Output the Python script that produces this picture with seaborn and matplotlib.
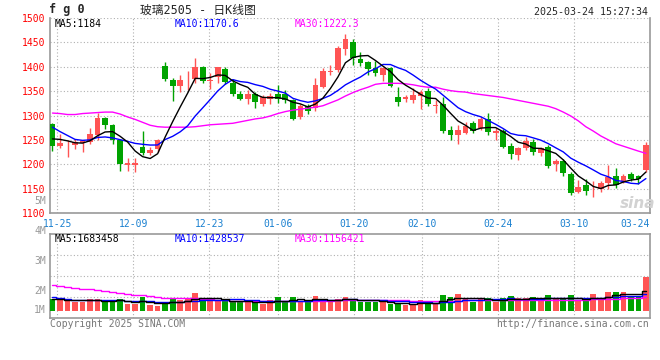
"""
Sina style daily K-line chart: 玻璃2505, 2024-11-22 .. 2025-03-24
Candles + MA5/10/30 on top, volume bars + volume MAs below.
"""

import numpy as np
import seaborn as sns
import matplotlib
matplotlib.use("Agg")
import matplotlib.pyplot as plt
from matplotlib.transforms import blended_transform_factory

# --- 1. DATA ---
date_labels = ['11-25', '12-09', '12-23', '01-06', '01-20', '02-10', '02-24', '03-10', '03-24']
date_idx = [1, 11, 21, 30, 40, 49, 59, 69, 79]

opens = [1283, 1238, 1241, 1240, 1243, 1245, 1260, 1295, 1281, 1249,
         1198, 1198, 1235, 1224, 1231, 1402, 1373, 1361, 1372, 1374,
         1400, 1370, 1380, 1395, 1366, 1344, 1334, 1344, 1324, 1334,
         1344, 1344, 1331, 1296, 1320, 1315, 1359, 1390, 1393, 1436,
         1451, 1416, 1409, 1397, 1383, 1398, 1337, 1334, 1332, 1339,
         1351, 1320, 1324, 1270, 1259, 1265, 1284, 1275, 1293, 1264,
         1268, 1238, 1218, 1234, 1246, 1223, 1236, 1200, 1207, 1180,
         1144, 1158, 1149, 1150, 1161, 1176, 1165, 1180, 1176, 1189]
highs = [1284, 1262, 1250, 1252, 1250, 1275, 1306, 1296, 1282, 1250,
         1212, 1212, 1268, 1235, 1252, 1410, 1376, 1383, 1392, 1417,
         1401, 1387, 1400, 1400, 1374, 1351, 1352, 1349, 1342, 1347,
         1363, 1353, 1334, 1324, 1324, 1376, 1398, 1404, 1443, 1467,
         1456, 1430, 1411, 1412, 1400, 1400, 1359, 1342, 1356, 1352,
         1356, 1332, 1337, 1279, 1280, 1286, 1288, 1297, 1305, 1275,
         1273, 1243, 1236, 1256, 1251, 1236, 1240, 1211, 1211, 1185,
         1168, 1170, 1165, 1165, 1199, 1193, 1181, 1184, 1178, 1245]
lows = [1228, 1234, 1214, 1232, 1226, 1242, 1249, 1272, 1242, 1187,
        1187, 1185, 1219, 1218, 1226, 1371, 1329, 1349, 1352, 1366,
        1367, 1355, 1366, 1364, 1340, 1332, 1324, 1316, 1320, 1324,
        1326, 1325, 1291, 1293, 1303, 1310, 1356, 1383, 1390, 1424,
        1404, 1402, 1384, 1382, 1371, 1359, 1320, 1327, 1325, 1314,
        1320, 1305, 1265, 1250, 1242, 1262, 1265, 1270, 1260, 1250,
        1233, 1211, 1208, 1230, 1219, 1217, 1192, 1187, 1175, 1137,
        1141, 1137, 1132, 1143, 1150, 1151, 1161, 1166, 1160, 1185]
closes = [1238, 1244, 1242, 1245, 1248, 1262, 1295, 1281, 1249, 1200,
          1203, 1203, 1223, 1230, 1249, 1374, 1361, 1373, 1373, 1400,
          1371, 1373, 1399, 1368, 1344, 1334, 1344, 1327, 1337, 1341,
          1334, 1331, 1293, 1320, 1310, 1363, 1392, 1392, 1438, 1456,
          1417, 1408, 1396, 1387, 1398, 1361, 1327, 1338, 1342, 1349,
          1323, 1322, 1269, 1259, 1270, 1279, 1269, 1293, 1266, 1269,
          1236, 1221, 1234, 1248, 1226, 1233, 1197, 1207, 1182, 1141,
          1153, 1146, 1150, 1161, 1173, 1158, 1176, 1170, 1170, 1240]

ma5 = [1252, 1251, 1248, 1244, 1243.4, 1248.2, 1258.4, 1266.2, 1267, 1257.4,
       1245.6, 1227.2, 1215.6, 1211.8, 1221.6, 1255.8, 1287.4, 1317.4, 1346, 1376.2,
       1375.6, 1378, 1383.2, 1382.2, 1371, 1363.6, 1357.8, 1343.4, 1337.2, 1336.6,
       1336.6, 1334, 1327.2, 1323.8, 1317.6, 1323.4, 1335.6, 1355.4, 1379, 1408.2,
       1419, 1422.2, 1423, 1412.8, 1401.2, 1390, 1373.8, 1362.2, 1353.2, 1343.4,
       1335.8, 1334.8, 1321, 1304.4, 1288.6, 1279.8, 1269.2, 1274, 1275.4, 1275.2,
       1266.6, 1257, 1245.2, 1241.6, 1233, 1232.4, 1227.6, 1222.2, 1209, 1192,
       1176, 1165.8, 1154.4, 1150.2, 1156.6, 1157.6, 1163.6, 1167.6, 1169.4, 1184]
ma10 = [1276, 1267, 1259, 1251, 1249, 1250, 1255, 1256, 1254, 1250.4,
        1246.9, 1242.8, 1240.9, 1239.4, 1239.5, 1250.7, 1257.3, 1266.5, 1278.9, 1298.9,
        1315.7, 1332.7, 1350.3, 1364.1, 1373.6, 1369.6, 1367.9, 1363.3, 1359.7, 1353.8,
        1350.1, 1345.9, 1335.3, 1330.5, 1327.1, 1330, 1334.8, 1341.3, 1351.4, 1362.9,
        1371.2, 1378.9, 1389.2, 1395.9, 1404.7, 1404.5, 1398, 1392.6, 1383, 1372.3,
        1362.9, 1354.3, 1341.6, 1328.8, 1316, 1307.8, 1302, 1297.5, 1289.9, 1281.9,
        1273.2, 1263.1, 1259.6, 1258.5, 1254.1, 1249.5, 1242.3, 1233.7, 1225.3, 1212.5,
        1204.2, 1196.7, 1188.3, 1179.6, 1174.3, 1166.8, 1164.7, 1161, 1159.8, 1170.6]
ma30 = [1305, 1304, 1302, 1302, 1304, 1305, 1306, 1307, 1307, 1303,
        1297, 1292, 1286, 1280, 1277, 1276, 1276, 1276, 1276, 1277,
        1279, 1281, 1282, 1283, 1284, 1287, 1290, 1293, 1295, 1299,
        1304, 1308, 1311, 1313, 1315, 1317, 1320, 1326, 1332, 1340,
        1347, 1353, 1358, 1364, 1366, 1366, 1366, 1365, 1363, 1360,
        1358, 1358, 1354, 1351, 1349, 1348, 1345, 1343, 1341, 1339,
        1337, 1334, 1331, 1328, 1325, 1322, 1319, 1314, 1307, 1299,
        1289, 1277, 1268, 1258, 1250, 1242, 1237, 1232, 1227, 1222.3]

# volume in millions of lots
volumes = [1.00, 0.92, 1.06, 0.78, 0.78, 1.00, 1.00, 0.78, 0.78, 1.00,
           0.64, 0.64, 1.17, 0.53, 0.42, 0.75, 1.00, 0.97, 1.08, 1.50,
           1.08, 0.86, 0.86, 0.83, 0.83, 0.78, 0.78, 0.78, 0.64, 0.92,
           1.17, 0.86, 1.17, 0.86, 0.75, 1.25, 0.92, 0.78, 1.06, 1.17,
           1.00, 0.78, 0.78, 0.78, 0.78, 0.64, 0.64, 0.56, 0.56, 0.92,
           0.83, 0.64, 1.33, 1.17, 1.42, 1.00, 0.78, 1.00, 1.08, 0.78,
           1.08, 1.25, 1.08, 1.08, 1.17, 1.00, 1.33, 1.00, 1.00, 1.33,
           0.92, 1.00, 1.42, 1.00, 1.58, 1.58, 1.58, 1.25, 1.25, 2.83]
vol_ma5 = [1.00, 0.98, 0.95, 0.92, 0.91, 0.91, 0.92, 0.87, 0.87, 0.91,
           0.84, 0.77, 0.85, 0.80, 0.68, 0.70, 0.77, 0.73, 0.84, 1.06,
           1.13, 1.10, 1.08, 1.03, 0.89, 0.83, 0.82, 0.80, 0.76, 0.78,
           0.86, 0.87, 0.95, 1.00, 0.96, 0.98, 0.99, 0.91, 0.95, 1.04,
           0.99, 0.96, 0.96, 0.90, 0.82, 0.75, 0.72, 0.68, 0.64, 0.66,
           0.70, 0.70, 0.86, 0.98, 1.08, 1.11, 1.14, 1.07, 1.06, 0.93,
           0.94, 1.04, 1.05, 1.05, 1.13, 1.12, 1.13, 1.12, 1.10, 1.13,
           1.12, 1.05, 1.13, 1.13, 1.18, 1.32, 1.43, 1.40, 1.45, 1.68]
vol_ma10 = [1.19, 1.10, 1.02, 0.97, 0.95, 0.93, 0.93, 0.92, 0.91, 0.91,
            0.87, 0.85, 0.86, 0.83, 0.80, 0.77, 0.77, 0.79, 0.82, 0.87,
            0.91, 0.94, 0.91, 0.94, 0.98, 0.98, 0.96, 0.94, 0.89, 0.84,
            0.85, 0.85, 0.88, 0.88, 0.87, 0.92, 0.93, 0.93, 0.97, 1.00,
            0.98, 0.97, 0.94, 0.93, 0.93, 0.87, 0.84, 0.82, 0.77, 0.74,
            0.73, 0.71, 0.77, 0.81, 0.87, 0.91, 0.92, 0.97, 1.02, 1.00,
            1.03, 1.09, 1.06, 1.06, 1.03, 1.03, 1.09, 1.09, 1.08, 1.13,
            1.12, 1.09, 1.13, 1.12, 1.16, 1.22, 1.24, 1.27, 1.29, 1.43]
vol_ma30 = [2.17, 2.08, 2.02, 1.97, 1.89, 1.81, 1.75, 1.69, 1.61, 1.53,
            1.46, 1.39, 1.32, 1.25, 1.18, 1.11, 1.11, 1.11, 1.11, 1.11,
            1.05, 1.00, 0.96, 0.92, 0.89, 0.86, 0.85, 0.85, 0.86, 0.87,
            0.88, 0.88, 0.88, 0.88, 0.88, 0.89, 0.89, 0.89, 0.90, 0.90,
            0.91, 0.92, 0.91, 0.91, 0.93, 0.92, 0.91, 0.90, 0.88, 0.86,
            0.85, 0.84, 0.86, 0.87, 0.89, 0.90, 0.90, 0.91, 0.92, 0.92,
            0.91, 0.93, 0.92, 0.93, 0.94, 0.94, 0.95, 0.96, 0.95, 0.96,
            0.96, 0.96, 0.99, 0.99, 1.02, 1.05, 1.08, 1.11, 1.13, 1.16]
vol_tick_labels = ['1M', '2M', '3M', '4M', '5M']

# --- 2. STYLE ---
sns.set_style("white")
plt.rcParams['font.family'] = ['DejaVu Sans Mono', 'Noto Sans CJK SC']
RED, GREEN = '#ff5454', '#00a300'
GRID_KW = dict(color='#b0b0b0', linestyle=(0, (1, 2)), linewidth=0.8)
EDGE = '#999999'
DATE_BLUE = '#1a80d0'

idx = np.arange(len(closes))
o, c = np.array(opens), np.array(closes)
colors = np.where(c >= o, RED, GREEN)
# sina's vertical grid drifts a little against the candle slots
grid_x = [k * 1.0116 - 0.37 for k in date_idx]

fig = plt.figure(figsize=(6.6, 3.6), dpi=100)
ax = fig.add_axes([50 / 660, 1 - 213 / 360, 600 / 660, 195 / 360])
axv = fig.add_axes([50 / 660, 1 - 318 / 360, 600 / 660, 84 / 360])

# --- 3. PRICE PANEL ---
ax.vlines(idx, lows, highs, colors=colors, lw=1, zorder=3)
ax.bar(idx, np.maximum(np.abs(c - o), 1.2), bottom=np.minimum(o, c),
       width=0.76, color=colors, lw=0, zorder=4)
for vals, col in [(ma30, '#ff00ff'), (ma10, '#0000ff'), (ma5, '#000000')]:
    sns.lineplot(x=idx, y=vals, ax=ax, color=col, lw=1, zorder=5)

ax.set_xlim(-0.33, 79.53)
ax.set_ylim(1100, 1500)
ax.set_yticks(range(1100, 1501, 50))
ax.set_xticks(grid_x)
ax.set_xticklabels(date_labels)
ax.get_xticklabels()[-1].set_ha('right')  # last date sits flush with the right edge
ax.tick_params(axis='y', length=0, pad=3, labelcolor='red', labelsize=7)
ax.tick_params(axis='x', length=0, pad=4, labelcolor=DATE_BLUE, labelsize=7)
ax.set_xlabel('')
ax.set_ylabel('')
ax.grid(True, **GRID_KW)
ax.set_axisbelow(True)
ax.spines['top'].set_visible(False)
for s in ['left', 'right', 'bottom']:
    ax.spines[s].set_color(EDGE)
    ax.spines[s].set_linewidth(1.2)

# --- 4. VOLUME PANEL ---
axv.bar(idx, volumes, width=0.76, color=colors, lw=0, zorder=3)
for vals, col in [(vol_ma30, '#ff00ff'), (vol_ma10, '#0000ff'), (vol_ma5, '#000000')]:
    sns.lineplot(x=idx, y=vals, ax=axv, color=col, lw=1, drawstyle='steps-mid', zorder=4)

v_lo, v_hi = -0.56, 6.42
axv.set_xlim(-0.33, 79.53)
axv.set_ylim(v_lo, v_hi)
axv.set_yticks([v_lo + (v_hi - v_lo) * f for f in (0.25, 0.5, 0.75)])
axv.set_yticklabels([])
axv.set_xticks(grid_x)
axv.set_xticklabels([])
axv.tick_params(length=0)
axv.set_xlabel('')
axv.set_ylabel('')
axv.grid(True, **GRID_KW)
axv.set_axisbelow(True)
for s in axv.spines.values():
    s.set_color(EDGE)
    s.set_linewidth(1.2)

# sina prints its volume labels on their own (odd) scale
trans = blended_transform_factory(axv.transAxes, axv.transData)
for lab, yv in zip(vol_tick_labels, [0.08, 1.67, 4.17, 6.67, 9.17]):
    axv.text(-0.007, yv, lab, transform=trans, ha='right', va='center',
             color='#999999', fontsize=7, clip_on=False)

# --- 5. TEXTS ---
def px(x, y):
    return x / 660, 1 - y / 360

fig.text(*px(49, 10), 'f g 0', fontsize=8.5, weight='bold', ha='left', va='center')
fig.text(*px(140, 10), '玻璃2505 - 日K线图', fontsize=8.5, ha='left', va='center')
fig.text(*px(648, 12), '2025-03-24 15:27:34', fontsize=7.2, ha='right', va='center')

for x, lab, col in [(55, 'MA5:1184', 'black'), (175, 'MA10:1170.6', 'blue'),
                    (295, 'MA30:1222.3', '#ff00ff')]:
    fig.text(*px(x, 24), lab, fontsize=7, color=col, ha='left', va='center')
for x, lab, col in [(55, 'MA5:1683458', 'black'), (175, 'MA10:1428537', 'blue'),
                    (295, 'MA30:1156421', '#ff00ff')]:
    fig.text(*px(x, 238.5), lab, fontsize=7, color=col, ha='left', va='center')

fig.text(*px(620, 203), 'sina', fontsize=11, color='#d2d2d2', style='italic',
         weight='bold', family='DejaVu Sans', ha='left', va='center')
fig.text(*px(50, 324), 'Copyright 2025 SINA.COM', fontsize=7, color='#777777',
         ha='left', va='center')
fig.text(*px(649, 324), 'http://finance.sina.com.cn', fontsize=7, color='#777777',
         ha='right', va='center')

fig.savefig('out.png', dpi=100, facecolor='white')
